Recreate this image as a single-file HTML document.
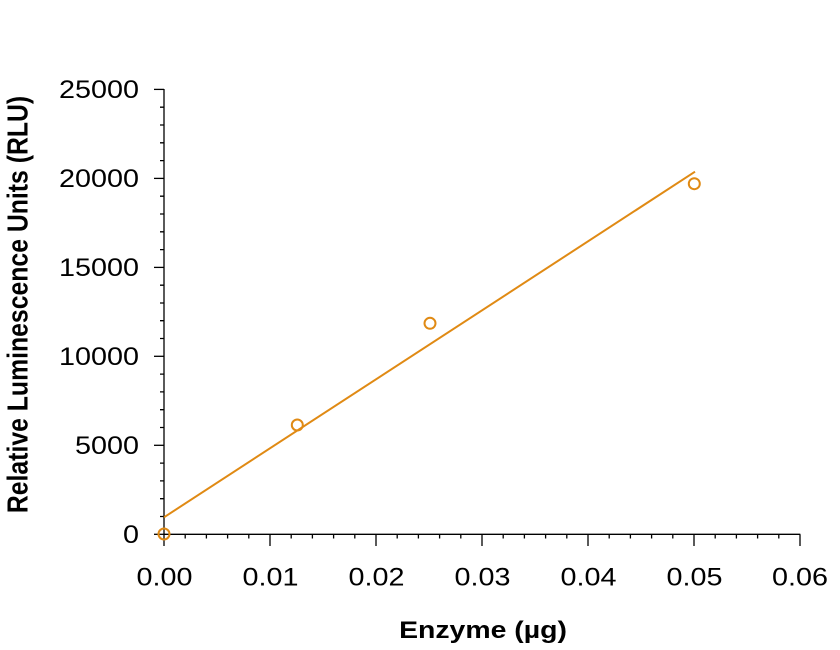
<!DOCTYPE html>
<html>
<head>
<meta charset="utf-8">
<style>
html,body{margin:0;padding:0;background:#fff;}
svg{display:block;}
text{font-family:"Liberation Sans",Arial,sans-serif;fill:#000;}
</style>
</head>
<body>
<svg width="840" height="650" viewBox="0 0 840 650" xmlns="http://www.w3.org/2000/svg">
<g stroke="#000" stroke-width="1.3" fill="none">
  <!-- axes -->
  <line x1="164" y1="89" x2="164" y2="534.3"/>
  <line x1="164" y1="534.3" x2="800.3" y2="534.3"/>
  <!-- y major ticks -->
  <line x1="154" y1="89.4" x2="164" y2="89.4"/>
  <line x1="154" y1="178.4" x2="164" y2="178.4"/>
  <line x1="154" y1="267.4" x2="164" y2="267.4"/>
  <line x1="154" y1="356.3" x2="164" y2="356.3"/>
  <line x1="154" y1="445.3" x2="164" y2="445.3"/>
  <line x1="154" y1="534.3" x2="164" y2="534.3"/>
  <!-- y minor ticks -->
  <path d="M160 107.2H164M160 125H164M160 142.8H164M160 160.6H164
           M160 196.2H164M160 214H164M160 231.8H164M160 249.6H164
           M160 285.2H164M160 303H164M160 320.7H164M160 338.5H164
           M160 374.1H164M160 391.9H164M160 409.7H164M160 427.5H164
           M160 463.1H164M160 480.9H164M160 498.7H164M160 516.5H164"/>
  <!-- x major ticks -->
  <line x1="164" y1="534.3" x2="164" y2="546"/>
  <line x1="270" y1="534.3" x2="270" y2="546"/>
  <line x1="376" y1="534.3" x2="376" y2="546"/>
  <line x1="482" y1="534.3" x2="482" y2="546"/>
  <line x1="588" y1="534.3" x2="588" y2="546"/>
  <line x1="694" y1="534.3" x2="694" y2="546"/>
  <line x1="800" y1="534.3" x2="800" y2="546"/>
  <!-- x minor ticks -->
  <path d="M185.2 534.3V538.5M206.4 534.3V538.5M227.6 534.3V538.5M248.8 534.3V538.5
           M291.2 534.3V538.5M312.4 534.3V538.5M333.6 534.3V538.5M354.8 534.3V538.5
           M397.2 534.3V538.5M418.4 534.3V538.5M439.6 534.3V538.5M460.8 534.3V538.5
           M503.2 534.3V538.5M524.4 534.3V538.5M545.6 534.3V538.5M566.8 534.3V538.5
           M609.2 534.3V538.5M630.4 534.3V538.5M651.6 534.3V538.5M672.8 534.3V538.5
           M715.2 534.3V538.5M736.4 534.3V538.5M757.6 534.3V538.5M778.8 534.3V538.5"/>
</g>

<!-- fit line -->
<line x1="164" y1="517.3" x2="695" y2="171.7" stroke="#E08A14" stroke-width="2"/>
<!-- data points -->
<g stroke="#E08A14" stroke-width="2" fill="none">
  <circle cx="164" cy="534" r="5.5"/>
  <circle cx="297.3" cy="425" r="5.5"/>
  <circle cx="430" cy="323.3" r="5.5"/>
  <circle cx="694.3" cy="183.7" r="5.5"/>
</g>

<!-- y tick labels -->
<g font-size="25" text-anchor="end">
  <text transform="translate(139,98.2) scale(1.15,1)">25000</text>
  <text transform="translate(139,187.2) scale(1.15,1)">20000</text>
  <text transform="translate(139,276.2) scale(1.15,1)">15000</text>
  <text transform="translate(139,365.1) scale(1.15,1)">10000</text>
  <text transform="translate(139,454.1) scale(1.15,1)">5000</text>
  <text transform="translate(139,543.1) scale(1.15,1)">0</text>
</g>

<!-- x tick labels -->
<g font-size="25" text-anchor="middle">
  <text transform="translate(164.5,585.5) scale(1.15,1)">0.00</text>
  <text transform="translate(270.5,585.5) scale(1.15,1)">0.01</text>
  <text transform="translate(376.5,585.5) scale(1.15,1)">0.02</text>
  <text transform="translate(482.5,585.5) scale(1.15,1)">0.03</text>
  <text transform="translate(588.5,585.5) scale(1.15,1)">0.04</text>
  <text transform="translate(694.5,585.5) scale(1.15,1)">0.05</text>
  <text transform="translate(800,585.5) scale(1.15,1)">0.06</text>
</g>

<!-- axis titles -->
<text font-size="24.5" font-weight="bold" text-anchor="middle" transform="translate(483,638) scale(1.16,1)">Enzyme (µg)</text>
<text font-size="24.8" font-weight="bold" text-anchor="middle" transform="translate(27.5,304.5) rotate(-90) scale(1,1.16)">Relative Luminescence Units (RLU)</text>
</svg>
</body>
</html>
